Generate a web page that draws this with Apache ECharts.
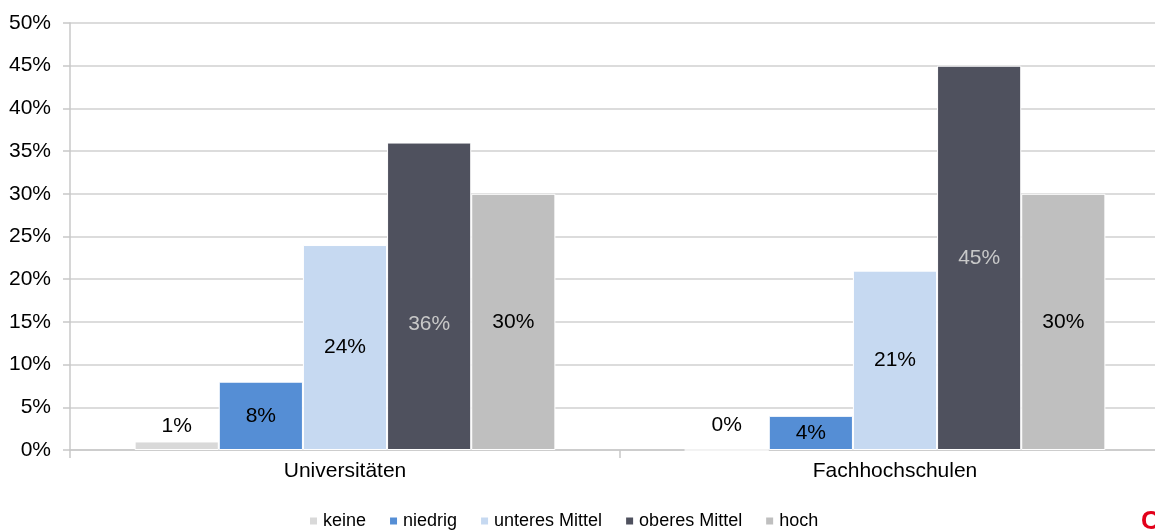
<!DOCTYPE html>
<html>
<head>
<meta charset="utf-8">
<script src="https://cdn.jsdelivr.net/npm/echarts@6/dist/echarts.min.js"></script>
<style>html,body{margin:0;padding:0;background:#fff;overflow:hidden}#c{width:1155px;height:530px}</style>
</head>
<body>
<div id="c"></div>
<script>
const categories = ['Universitäten', 'Fachhochschulen'];
const seriesNames = ['keine', 'niedrig', 'unteres Mittel', 'oberes Mittel', 'hoch'];
const keine = [1, 0];
const niedrig = [8, 4];
const unteresMittel = [24, 21];
const oberesMittel = [36, 45];
const hoch = [30, 30];
const yTicks = [0, 5, 10, 15, 20, 25, 30, 35, 40, 45, 50];

const colors = ['#d9d9d9', '#558ed5', '#c6d9f1', '#4f515e', '#bfbfbf'];
const labelColors = ['#000', '#000', '#000', '#c8c8c8', '#000'];
const values = [keine, niedrig, unteresMittel, oberesMittel, hoch];
const font = 'Liberation Sans, Arial, sans-serif';

const series = values.map((vals, i) => ({
  name: seriesNames[i],
  type: 'bar',
  barGap: '0%',
  barCategoryGap: '23.5%',
  itemStyle: { color: colors[i], borderColor: '#fff', borderWidth: 1 },
  label: {
    show: true,
    position: i === 0 ? 'top' : 'inside',
    distance: 5,
    color: labelColors[i],
    fontFamily: font,
    fontSize: 21,
    formatter: p => p.value + '%'
  },
  data: vals.map((v, j) => {
    const d = { value: v };
    if (i === 0 && v === 0) d.label = { offset: [0, -9] };
    if (i === 3 && j === 0) d.label = { offset: [0, 28] };
    return d;
  })
}));

const chart = echarts.init(document.getElementById('c'));
chart.setOption({
  animation: false,
  textStyle: { fontFamily: font },
  grid: { left: 70, width: 1100, top: 23, bottom: 80, containLabel: false, outerBoundsMode: 'none' },
  legend: {
    top: 507,
    left: 303,
    itemWidth: 9,
    itemHeight: 9,
    itemGap: 22,
    icon: 'rect',
    textStyle: { fontSize: 18, color: '#000', fontFamily: font, padding: [0, 0, 0, 0] },
    data: seriesNames
  },
  xAxis: {
    type: 'category',
    data: categories,
    axisLine: { lineStyle: { color: '#c8c8c8', width: 1.5 } },
    axisTick: { show: true, length: 8, lineStyle: { color: '#c8c8c8', width: 1.5 } },
    axisLabel: { color: '#000', fontSize: 21, fontFamily: font, margin: 11 }
  },
  yAxis: {
    type: 'value',
    min: 0,
    max: 50,
    interval: 5,
    axisLine: { show: true, lineStyle: { color: '#c8c8c8', width: 1.5 } },
    axisTick: { show: true, length: 7, lineStyle: { color: '#c8c8c8', width: 1.5 } },
    splitLine: { lineStyle: { color: '#d0d0d0', width: 1.5 } },
    axisLabel: {
      color: '#000', fontSize: 21, fontFamily: font, margin: 19,
      formatter: v => yTicks.includes(v) ? v + '%' : ''
    }
  },
  graphic: [{
    type: 'text',
    left: 1141,
    top: 509,
    style: { text: 'C', fill: '#e2001a', font: 'bold 26px Liberation Sans, Arial, sans-serif' }
  }],
  series: series
});
</script>
</body>
</html>
